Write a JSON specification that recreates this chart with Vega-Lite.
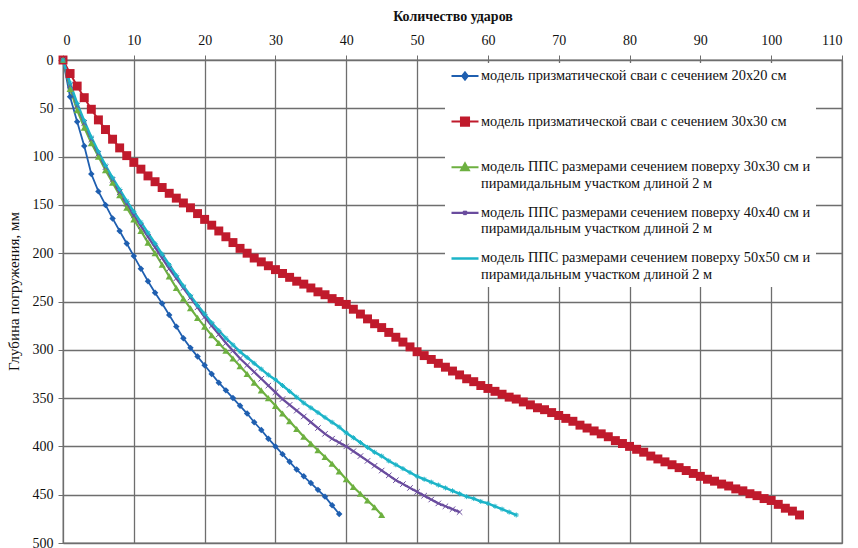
{
  "$schema": "https://vega.github.io/schema/vega-lite/v6.json",
  "width": 779,
  "height": 483,
  "autosize": {"type": "none"},
  "padding": {"left": 63, "top": 60, "right": 16, "bottom": 5},
  "background": "white",
  "config": {"view": {"stroke": "#777777", "strokeWidth": 1.3}, "font": "Liberation Serif"},
  "data": {"values": [
{"s":"s1","n":0,"d":0},{"s":"s1","n":1,"d":38},{"s":"s1","n":2,"d":64},{"s":"s1","n":3,"d":89},{"s":"s1","n":4,"d":118},{"s":"s1","n":5,"d":136},{"s":"s1","n":6,"d":150},{"s":"s1","n":7,"d":164},{"s":"s1","n":8,"d":177},{"s":"s1","n":9,"d":190},
{"s":"s1","n":10,"d":203},{"s":"s1","n":11,"d":216},{"s":"s1","n":12,"d":229},{"s":"s1","n":13,"d":241},{"s":"s1","n":14,"d":252},{"s":"s1","n":15,"d":264},{"s":"s1","n":16,"d":276},{"s":"s1","n":17,"d":288},{"s":"s1","n":18,"d":298},{"s":"s1","n":19,"d":307},
{"s":"s1","n":20,"d":316},{"s":"s1","n":21,"d":325},{"s":"s1","n":22,"d":334},{"s":"s1","n":23,"d":342},{"s":"s1","n":24,"d":350},{"s":"s1","n":25,"d":358},{"s":"s1","n":26,"d":366},{"s":"s1","n":27,"d":375},{"s":"s1","n":28,"d":383},{"s":"s1","n":29,"d":392},
{"s":"s1","n":30,"d":400},{"s":"s1","n":31,"d":408},{"s":"s1","n":32,"d":416},{"s":"s1","n":33,"d":424},{"s":"s1","n":34,"d":431},{"s":"s1","n":35,"d":438},{"s":"s1","n":36,"d":445},{"s":"s1","n":37,"d":452},{"s":"s1","n":38,"d":461},{"s":"s1","n":39,"d":470},
{"s":"s2","n":0,"d":0},{"s":"s2","n":1,"d":14},{"s":"s2","n":2,"d":27},{"s":"s2","n":3,"d":39},{"s":"s2","n":4,"d":51},{"s":"s2","n":5,"d":62},{"s":"s2","n":6,"d":72},{"s":"s2","n":7,"d":82},{"s":"s2","n":8,"d":91},{"s":"s2","n":9,"d":99},
{"s":"s2","n":10,"d":106},{"s":"s2","n":11,"d":113},{"s":"s2","n":12,"d":120},{"s":"s2","n":13,"d":126},{"s":"s2","n":14,"d":132},{"s":"s2","n":15,"d":138},{"s":"s2","n":16,"d":143},{"s":"s2","n":17,"d":148},{"s":"s2","n":18,"d":153},{"s":"s2","n":19,"d":159},
{"s":"s2","n":20,"d":165},{"s":"s2","n":21,"d":171},{"s":"s2","n":22,"d":177},{"s":"s2","n":23,"d":183},{"s":"s2","n":24,"d":189},{"s":"s2","n":25,"d":195},{"s":"s2","n":26,"d":200},{"s":"s2","n":27,"d":205},{"s":"s2","n":28,"d":209},{"s":"s2","n":29,"d":213},
{"s":"s2","n":30,"d":217},{"s":"s2","n":31,"d":221},{"s":"s2","n":32,"d":225},{"s":"s2","n":33,"d":229},{"s":"s2","n":34,"d":232},{"s":"s2","n":35,"d":236},{"s":"s2","n":36,"d":240},{"s":"s2","n":37,"d":243},{"s":"s2","n":38,"d":247},{"s":"s2","n":39,"d":250},
{"s":"s2","n":40,"d":253},{"s":"s2","n":41,"d":258},{"s":"s2","n":42,"d":263},{"s":"s2","n":43,"d":268},{"s":"s2","n":44,"d":273},{"s":"s2","n":45,"d":277},{"s":"s2","n":46,"d":282},{"s":"s2","n":47,"d":287},{"s":"s2","n":48,"d":292},{"s":"s2","n":49,"d":297},
{"s":"s2","n":50,"d":302},{"s":"s2","n":51,"d":306},{"s":"s2","n":52,"d":310},{"s":"s2","n":53,"d":314},{"s":"s2","n":54,"d":318},{"s":"s2","n":55,"d":322},{"s":"s2","n":56,"d":326},{"s":"s2","n":57,"d":330},{"s":"s2","n":58,"d":333},{"s":"s2","n":59,"d":337},
{"s":"s2","n":60,"d":340},{"s":"s2","n":61,"d":343},{"s":"s2","n":62,"d":346},{"s":"s2","n":63,"d":349},{"s":"s2","n":64,"d":351},{"s":"s2","n":65,"d":354},{"s":"s2","n":66,"d":357},{"s":"s2","n":67,"d":360},{"s":"s2","n":68,"d":362},{"s":"s2","n":69,"d":365},
{"s":"s2","n":70,"d":368},{"s":"s2","n":71,"d":371},{"s":"s2","n":72,"d":374},{"s":"s2","n":73,"d":378},{"s":"s2","n":74,"d":381},{"s":"s2","n":75,"d":384},{"s":"s2","n":76,"d":387},{"s":"s2","n":77,"d":390},{"s":"s2","n":78,"d":394},{"s":"s2","n":79,"d":397},
{"s":"s2","n":80,"d":400},{"s":"s2","n":81,"d":403},{"s":"s2","n":82,"d":406},{"s":"s2","n":83,"d":410},{"s":"s2","n":84,"d":413},{"s":"s2","n":85,"d":416},{"s":"s2","n":86,"d":419},{"s":"s2","n":87,"d":422},{"s":"s2","n":88,"d":425},{"s":"s2","n":89,"d":428},
{"s":"s2","n":90,"d":431},{"s":"s2","n":91,"d":434},{"s":"s2","n":92,"d":436},{"s":"s2","n":93,"d":439},{"s":"s2","n":94,"d":441},{"s":"s2","n":95,"d":444},{"s":"s2","n":96,"d":446},{"s":"s2","n":97,"d":449},{"s":"s2","n":98,"d":451},{"s":"s2","n":99,"d":454},
{"s":"s2","n":100,"d":456},{"s":"s2","n":101,"d":460},{"s":"s2","n":102,"d":464},{"s":"s2","n":103,"d":467},{"s":"s2","n":104,"d":471},
{"s":"s3","n":0,"d":0},{"s":"s3","n":1,"d":30},{"s":"s3","n":2,"d":52},{"s":"s3","n":3,"d":70},{"s":"s3","n":4,"d":86},{"s":"s3","n":5,"d":100},{"s":"s3","n":6,"d":114},{"s":"s3","n":7,"d":127},{"s":"s3","n":8,"d":140},{"s":"s3","n":9,"d":153},
{"s":"s3","n":10,"d":165},{"s":"s3","n":11,"d":177},{"s":"s3","n":12,"d":189},{"s":"s3","n":13,"d":200},{"s":"s3","n":14,"d":212},{"s":"s3","n":15,"d":224},{"s":"s3","n":16,"d":236},{"s":"s3","n":17,"d":247},{"s":"s3","n":18,"d":257},{"s":"s3","n":19,"d":267},
{"s":"s3","n":20,"d":276},{"s":"s3","n":21,"d":285},{"s":"s3","n":22,"d":293},{"s":"s3","n":23,"d":301},{"s":"s3","n":24,"d":309},{"s":"s3","n":25,"d":317},{"s":"s3","n":26,"d":325},{"s":"s3","n":27,"d":334},{"s":"s3","n":28,"d":342},{"s":"s3","n":29,"d":350},
{"s":"s3","n":30,"d":358},{"s":"s3","n":31,"d":366},{"s":"s3","n":32,"d":374},{"s":"s3","n":33,"d":382},{"s":"s3","n":34,"d":390},{"s":"s3","n":35,"d":397},{"s":"s3","n":36,"d":404},{"s":"s3","n":37,"d":411},{"s":"s3","n":38,"d":418},{"s":"s3","n":39,"d":426},
{"s":"s3","n":40,"d":434},{"s":"s3","n":41,"d":442},{"s":"s3","n":42,"d":449},{"s":"s3","n":43,"d":456},{"s":"s3","n":44,"d":463},{"s":"s3","n":45,"d":471},
{"s":"s4","n":0,"d":0},{"s":"s4","n":1,"d":26},{"s":"s4","n":2,"d":47},{"s":"s4","n":3,"d":65},{"s":"s4","n":4,"d":82},{"s":"s4","n":5,"d":97},{"s":"s4","n":6,"d":111},{"s":"s4","n":7,"d":124},{"s":"s4","n":8,"d":137},{"s":"s4","n":9,"d":149},
{"s":"s4","n":10,"d":161},{"s":"s4","n":11,"d":172},{"s":"s4","n":12,"d":183},{"s":"s4","n":13,"d":194},{"s":"s4","n":14,"d":205},{"s":"s4","n":15,"d":216},{"s":"s4","n":16,"d":226},{"s":"s4","n":17,"d":236},{"s":"s4","n":18,"d":246},{"s":"s4","n":19,"d":256},
{"s":"s4","n":20,"d":266},{"s":"s4","n":21,"d":275},{"s":"s4","n":22,"d":284},{"s":"s4","n":23,"d":293},{"s":"s4","n":24,"d":301},{"s":"s4","n":25,"d":309},{"s":"s4","n":26,"d":316},{"s":"s4","n":27,"d":323},{"s":"s4","n":28,"d":330},{"s":"s4","n":29,"d":337},
{"s":"s4","n":30,"d":344},{"s":"s4","n":31,"d":351},{"s":"s4","n":32,"d":357},{"s":"s4","n":33,"d":363},{"s":"s4","n":34,"d":369},{"s":"s4","n":35,"d":375},{"s":"s4","n":36,"d":381},{"s":"s4","n":37,"d":387},{"s":"s4","n":38,"d":392},{"s":"s4","n":39,"d":396},
{"s":"s4","n":40,"d":400},{"s":"s4","n":41,"d":405},{"s":"s4","n":42,"d":410},{"s":"s4","n":43,"d":415},{"s":"s4","n":44,"d":420},{"s":"s4","n":45,"d":425},{"s":"s4","n":46,"d":430},{"s":"s4","n":47,"d":435},{"s":"s4","n":48,"d":439},{"s":"s4","n":49,"d":443},
{"s":"s4","n":50,"d":447},{"s":"s4","n":51,"d":451},{"s":"s4","n":52,"d":455},{"s":"s4","n":53,"d":459},{"s":"s4","n":54,"d":462},{"s":"s4","n":55,"d":465},{"s":"s4","n":56,"d":468},
{"s":"s5","n":0,"d":0},{"s":"s5","n":1,"d":24},{"s":"s5","n":2,"d":45},{"s":"s5","n":3,"d":63},{"s":"s5","n":4,"d":80},{"s":"s5","n":5,"d":95},{"s":"s5","n":6,"d":109},{"s":"s5","n":7,"d":122},{"s":"s5","n":8,"d":134},{"s":"s5","n":9,"d":146},
{"s":"s5","n":10,"d":157},{"s":"s5","n":11,"d":168},{"s":"s5","n":12,"d":179},{"s":"s5","n":13,"d":190},{"s":"s5","n":14,"d":201},{"s":"s5","n":15,"d":212},{"s":"s5","n":16,"d":223},{"s":"s5","n":17,"d":234},{"s":"s5","n":18,"d":244},{"s":"s5","n":19,"d":254},
{"s":"s5","n":20,"d":263},{"s":"s5","n":21,"d":272},{"s":"s5","n":22,"d":280},{"s":"s5","n":23,"d":288},{"s":"s5","n":24,"d":295},{"s":"s5","n":25,"d":302},{"s":"s5","n":26,"d":308},{"s":"s5","n":27,"d":314},{"s":"s5","n":28,"d":320},{"s":"s5","n":29,"d":326},
{"s":"s5","n":30,"d":331},{"s":"s5","n":31,"d":337},{"s":"s5","n":32,"d":343},{"s":"s5","n":33,"d":349},{"s":"s5","n":34,"d":355},{"s":"s5","n":35,"d":360},{"s":"s5","n":36,"d":365},{"s":"s5","n":37,"d":370},{"s":"s5","n":38,"d":375},{"s":"s5","n":39,"d":380},
{"s":"s5","n":40,"d":386},{"s":"s5","n":41,"d":391},{"s":"s5","n":42,"d":396},{"s":"s5","n":43,"d":401},{"s":"s5","n":44,"d":406},{"s":"s5","n":45,"d":410},{"s":"s5","n":46,"d":415},{"s":"s5","n":47,"d":419},{"s":"s5","n":48,"d":423},{"s":"s5","n":49,"d":427},
{"s":"s5","n":50,"d":431},{"s":"s5","n":51,"d":434},{"s":"s5","n":52,"d":437},{"s":"s5","n":53,"d":440},{"s":"s5","n":54,"d":443},{"s":"s5","n":55,"d":446},{"s":"s5","n":56,"d":449},{"s":"s5","n":57,"d":452},{"s":"s5","n":58,"d":454},{"s":"s5","n":59,"d":457},
{"s":"s5","n":60,"d":459},{"s":"s5","n":61,"d":462},{"s":"s5","n":62,"d":465},{"s":"s5","n":63,"d":468},{"s":"s5","n":64,"d":471}
  ]},
  "encoding": {
    "x": {"field": "n", "type": "quantitative",
      "scale": {"domain": [0, 110], "nice": false, "zero": false},
      "axis": {"orient": "top", "title": "Количество ударов", "values": [0,10,20,30,40,50,60,70,80,90,100,110],
        "grid": true, "gridColor": "#6e6e6e", "gridWidth": 1.3, "tickColor": "#6e6e6e", "domainColor": "#6e6e6e",
        "tickSize": 5, "labelFont": "Liberation Serif", "labelFontSize": 14, "labelColor": "#111111", "labelPadding": 8,
        "titleFont": "Liberation Serif", "titleFontSize": 14, "titleFontWeight": "bold", "titleColor": "#111111", "titlePadding": 10}},
    "y": {"field": "d", "type": "quantitative",
      "scale": {"domain": [0, 500], "reverse": true, "nice": false},
      "axis": {"title": "Глубина погружения, мм", "values": [0,50,100,150,200,250,300,350,400,450,500],
        "grid": true, "gridColor": "#6e6e6e", "gridWidth": 1.3, "tickColor": "#6e6e6e", "domainColor": "#6e6e6e",
        "tickSize": 5, "labelFont": "Liberation Serif", "labelFontSize": 14, "labelColor": "#111111", "labelPadding": 5,
        "titleFont": "Liberation Serif", "titleFontSize": 15, "titleFontWeight": "normal", "titleColor": "#111111", "titlePadding": 11, "titleY": 231}},
    "color": {"field": "s", "type": "nominal",
      "scale": {"domain": ["s1","s2","s3","s4","s5"], "range": ["#1F5FB0","#C01A2C","#6DB040","#6A4C9E","#1CB4C8"]},
      "legend": {"orient": "none", "legendX": 382, "legendY": 3, "title": null, "fillColor": "white", "padding": 5,
        "labelFont": "Liberation Serif", "labelFontSize": 14.4, "labelColor": "#111111", "labelLimit": 600, "labelOffset": 1,
        "rowPadding": 14.6, "clipHeight": 16, "symbolSize": 729, "symbolStrokeWidth": 1.8, "labelBaseline": "middle",
        "labelExpr": "datum.value == 's1' ? ['модель призматической сваи с сечением 20x20 см', ''] : datum.value == 's2' ? ['модель призматической сваи с сечением 30x30 см', ''] : datum.value == 's3' ? ['модель ППС размерами сечением поверху 30x30 см и\u00a0\u00a0\u00a0\u00a0\u00a0', 'пирамидальным участком длиной 2 м'] : datum.value == 's4' ? ['модель ППС размерами сечением поверху 40x40 см и', 'пирамидальным участком длиной 2 м'] : ['модель ППС размерами сечением поверху 50x50 см и', 'пирамидальным участком длиной 2 м']",
        "encode": {"symbols": {
          "update": {
            "shape": {"signal": "datum.value == 's1' ? 'M-1,0H1M0,-0.28L0.22,0L0,0.28L-0.22,0Z' : datum.value == 's2' ? 'M-1,0H1M-0.3,-0.3H0.3V0.3H-0.3Z' : datum.value == 's3' ? 'M-1,0H1M0,-0.28L0.28,0.22H-0.28Z' : datum.value == 's4' ? 'M-1,0H1M-0.13,-0.13L0.13,0.13M-0.13,0.13L0.13,-0.13' : 'M-1,0H1'"},
            "fill": {"signal": "scale('color', datum.value)"},
            "stroke": {"signal": "scale('color', datum.value)"},
            "opacity": {"value": 1}
          },
          "shape": {"value": {"expr": "datum.value == 's1' ? 'M-1,0H1M0,-0.28L0.22,0L0,0.28L-0.22,0Z' : datum.value == 's2' ? 'M-1,0H1M-0.3,-0.3H0.3V0.3H-0.3Z' : datum.value == 's3' ? 'M-1,0H1M0,-0.28L0.28,0.22H-0.28Z' : datum.value == 's4' ? 'M-1,0H1M-0.13,-0.13L0.13,0.13M-0.13,0.13L0.13,-0.13' : 'M-1,0H1'"}},
          "fill": {"value": {"expr": "scale('color', datum.value)"}},
          "stroke": {"value": {"expr": "scale('color', datum.value)"}},
          "opacity": {"value": 1}
        }}}
    }
  },
  "layer": [
    {"mark": {"type": "line"},
     "encoding": {"strokeWidth": {"field": "s", "type": "nominal", "scale": {"domain": ["s1","s2","s3","s4","s5"], "range": [1.8, 2.5, 1.5, 1.5, 2]}, "legend": null}}},
    {"transform": [{"filter": {"field": "s", "equal": "s1"}}],
     "mark": {"type": "point", "filled": true, "opacity": 1, "shape": "diamond", "size": 42}},
    {"transform": [{"filter": {"field": "s", "equal": "s2"}}],
     "mark": {"type": "point", "filled": true, "opacity": 1, "shape": "square", "size": 80}},
    {"transform": [{"filter": {"field": "s", "equal": "s3"}}],
     "mark": {"type": "point", "filled": true, "opacity": 1, "shape": "triangle-up", "size": 50}},
    {"transform": [{"filter": {"field": "s", "equal": "s4"}}],
     "mark": {"type": "point", "filled": false, "opacity": 1, "strokeWidth": 1, "shape": "M-1,-1L1,1M-1,1L1,-1", "size": 30}},
    {"transform": [{"filter": {"field": "s", "equal": "s5"}}],
     "mark": {"type": "point", "filled": false, "opacity": 1, "strokeWidth": 1, "shape": "M-1,0H1M0,-1V1M-0.7,-0.7L0.7,0.7M-0.7,0.7L0.7,-0.7", "size": 25}}
  ]
}
